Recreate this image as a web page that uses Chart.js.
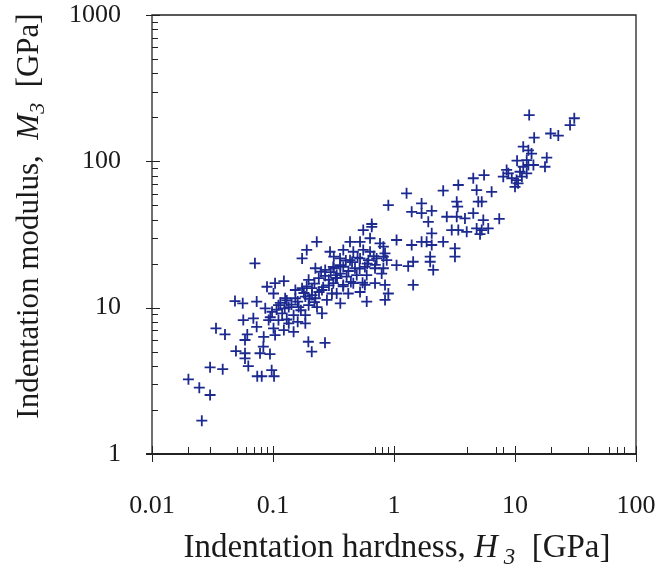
<!DOCTYPE html>
<html>
<head>
<meta charset="utf-8">
<script src="https://cdn.jsdelivr.net/npm/chart.js@4.4.1/dist/chart.umd.min.js"></script>
<style>
  html, body { margin: 0; padding: 0; background: #fff; }
  #chart { display: block; }
</style>
</head>
<body>
<canvas id="chart" width="660" height="569"></canvas>
<script>
// Indentation hardness H3 [GPa] (x) and indentation modulus M3 [GPa] (y)
const hardness = [
    0.0485, 0.0562, 0.0568, 0.0338, 0.0401, 0.0613, 0.0587, 0.0494, 0.0587, 0.0587,
    0.0625, 0.0302, 0.0384, 0.0741, 0.0807, 0.0975, 0.102, 0.0200, 0.0246, 0.0302,
    0.0258,
    0.898, 0.655, 0.230, 0.190, 0.0709, 0.843, 0.595, 0.0733, 0.0688, 0.0733,
    0.196, 0.269, 0.209, 0.0832, 0.0781, 0.0944,
    0.174, 0.318, 0.224, 0.270, 0.318, 0.360, 0.197, 0.239, 0.289, 0.338,
    0.0892, 0.104, 0.123, 0.101, 0.153, 0.174, 0.210, 0.254, 0.307,
    0.126, 0.153, 0.185, 0.224, 0.279, 0.360,
    0.111, 0.135, 0.163, 0.197, 0.231,
    0.0863, 0.0982, 0.119, 0.148, 0.185, 0.254,
    0.0921, 0.111, 0.135, 0.185, 0.101, 0.123, 0.148, 0.104, 0.0838,
    0.557, 0.655, 0.433, 0.524, 0.634, 1.05, 0.766, 0.817, 0.381, 0.461, 0.557, 0.634, 0.843, 0.296,
    0.358, 0.433, 0.524, 0.614, 0.719, 1.05, 0.315, 0.381, 0.476, 0.575, 0.697, 0.817,
    0.336, 0.406, 0.492, 0.595, 0.791, 0.315, 0.381, 0.461, 0.575, 0.697, 0.843,
    0.336, 0.419, 0.524, 0.898,
    5.55, 4.52, 3.40, 2.55, 4.82, 6.41, 1.27, 1.69, 3.30, 4.97, 5.31,
    1.40, 1.69, 2.05, 3.36, 1.92, 2.73, 3.30, 3.86, 4.52, 5.47, 7.41,
    3.00, 3.40, 3.99, 4.82, 5.14, 6.01, 2.05, 1.40, 1.69, 1.86, 2.05, 2.55,
    3.19, 3.19, 0.817, 0.871, 1.99, 1.99, 2.11, 1.31, 1.44, 1.44,
    13.1, 30.9, 28.5, 19.7, 22.8, 14.4, 11.7, 12.9, 13.7, 18.3, 17.7, 10.4, 12.5, 12.9, 11.7, 14.2,
    8.53, 8.81, 8.0, 11.0, 12.5, 11.4, 10.3, 9.4, 10.0, 10.6, 5.31,
    // inside the dense band
    0.115, 0.130, 0.142, 0.160, 0.170, 0.200, 0.210, 0.220, 0.240, 0.260,
    0.290, 0.270, 0.300, 0.330, 0.360, 0.400, 0.420, 0.450, 0.500, 0.520,
    0.600, 0.680, 0.700, 0.130, 0.160, 0.180, 0.095, 0.107, 0.125, 0.220,
    0.190, 0.250, 0.380, 0.440, 0.550
];
const modulus = [
    11.1, 10.7, 8.22, 7.23, 6.56, 6.56, 6.01, 5.05, 4.88, 4.50,
    3.99, 3.91, 3.80, 3.40, 3.40, 3.74, 3.40, 3.24, 2.84, 2.53,
    1.69,
    50.2, 37.3, 28.2, 24.8, 20.1, 11.3, 11.0, 11.0, 8.45, 7.40,
    5.85, 5.75, 5.00, 5.41, 4.88, 4.82,
    21.7, 22.3, 18.6, 18.1, 18.6, 17.1, 15.5, 15.9, 15.5, 15.9,
    13.9, 14.7, 15.2, 12.5, 13.2, 13.6, 13.6, 13.2, 12.5,
    11.6, 11.6, 11.9, 11.6, 11.3, 10.7,
    10.4, 10.1, 10.1, 10.4, 10.1,
    9.89, 9.38, 9.14, 8.89, 8.89, 9.14,
    8.22, 8.22, 7.82, 7.82, 7.23, 7.03, 6.84, 6.50, 6.32,
    33.9, 35.7, 28.2, 28.2, 29.8, 29.0, 27.5, 26.1, 24.8, 24.1, 24.8, 24.1, 23.5, 24.1,
    21.7, 21.1, 21.7, 21.1, 21.7, 19.5, 19.0, 19.0, 18.6, 19.0, 18.6, 18.6,
    16.7, 16.3, 16.7, 16.7, 17.1, 14.7, 14.3, 14.7, 14.3, 14.7, 14.3,
    12.5, 12.5, 12.8, 12.5,
    80.6, 76.6, 68.9, 63.0, 63.6, 61.9, 60.4, 51.6, 53.0, 53.0, 53.0,
    45.2, 44.2, 45.9, 49.0, 38.6, 41.8, 41.8, 40.7, 44.2, 39.7, 40.5,
    33.9, 33.9, 33.0, 34.8, 31.8, 34.8, 32.2, 26.8, 28.2, 28.2, 26.8, 28.2,
    25.4, 22.3, 22.3, 21.1, 22.3, 20.6, 18.1, 19.2, 20.6, 14.3,
    207, 197, 177, 155, 150, 145, 126, 119, 113, 106, 91.8, 101, 102, 94.4, 91.8, 94.4,
    87.3, 82.8, 78.5, 84.9, 82.8, 78.5, 74.5, 76.6, 67.0, 70.8, 33.9,
    10.8, 11.2, 10.5, 11.0, 9.6, 11.5, 12.2, 10.9, 12.8, 13.8,
    14.2, 16.5, 17.5, 16.0, 19.5, 21.0, 17.8, 20.5, 22.0, 18.5,
    20.0, 22.5, 19.6, 8.3, 8.0, 12.6, 8.6, 9.7, 9.9, 14.6,
    14.0, 17.6, 14.0, 15.0, 14.8
];

const xMajorTicks = [0.01, 0.1, 1, 10, 100];
const yMajorTicks = [1, 10, 100, 1000];
// minor ticks that show on the bottom axis of the scan
const xMinorTicks = [0.02, 0.03, 0.05, 0.06, 0.07, 0.08, 0.09, 0.7, 0.8, 0.9, 4, 7, 8, 20, 40, 60, 70, 80];
const yMinorTicks = [2, 3, 4, 5, 6, 7, 8, 9, 20, 30, 40, 50, 60, 70, 80, 90, 200, 300, 400, 500, 600, 700, 800, 900];

const serif = "'Liberation Serif', 'Times New Roman', serif";
const inkColor = '#1a1a1a';
const markColor = '#1c2a90';

// draws text pieces one after another: [text, font, yShift]
function drawPieces(ctx, pieces, startX, baseY) {
    let x = startX;
    pieces.forEach(p => {
        ctx.font = p[1];
        ctx.fillText(p[0], x, baseY + p[2]);
        x += ctx.measureText(p[0]).width;
    });
}
function piecesWidth(ctx, pieces) {
    let w = 0;
    pieces.forEach(p => {
        ctx.font = p[1];
        w += ctx.measureText(p[0]).width;
    });
    return w;
}

// keep the plot box where the scan has it, whatever the edge labels need
function noEdgePadding(scale) {
    scale.paddingLeft = 0;
    scale.paddingRight = 0;
    scale.paddingTop = 0;
    scale.paddingBottom = 0;
}

const frameAndTitles = {
    id: 'frameAndTitles',
    afterDatasetsDraw(chart) {
        const ctx = chart.ctx;
        const area = chart.chartArea;
        const xs = chart.scales.x;
        const ys = chart.scales.y;
        ctx.save();
        ctx.strokeStyle = '#222';

        // box
        ctx.lineWidth = 1.3;
        ctx.beginPath();
        ctx.moveTo(area.left, area.bottom);
        ctx.lineTo(area.left, area.top);
        ctx.lineTo(area.right, area.top);
        ctx.lineTo(area.right, area.bottom);
        ctx.stroke();
        ctx.lineWidth = 2;
        ctx.beginPath();
        ctx.moveTo(area.left - 6, area.bottom);
        ctx.lineTo(area.right, area.bottom);
        ctx.stroke();

        // ticks
        ctx.lineWidth = 1;
        ctx.beginPath();
        xMajorTicks.forEach(v => {
            const px = Math.round(xs.getPixelForValue(v)) + 0.5;
            ctx.moveTo(px, area.bottom + 8);
            ctx.lineTo(px, area.bottom - 8);
        });
        xMinorTicks.forEach(v => {
            const px = Math.round(xs.getPixelForValue(v)) + 0.5;
            ctx.moveTo(px, area.bottom);
            ctx.lineTo(px, area.bottom - 7);
        });
        yMajorTicks.forEach(v => {
            const py = Math.round(ys.getPixelForValue(v)) + 0.5;
            ctx.moveTo(area.left - 6, py);
            ctx.lineTo(area.left + 8, py);
        });
        yMinorTicks.forEach(v => {
            const py = Math.round(ys.getPixelForValue(v)) + 0.5;
            ctx.moveTo(area.left, py);
            ctx.lineTo(area.left + 6, py);
        });
        ctx.stroke();

        // axis titles
        ctx.fillStyle = inkColor;
        ctx.textBaseline = 'alphabetic';
        ctx.textAlign = 'left';

        const xTitle = [
            ['Indentation hardness, ', '33px ' + serif, 0],
            ['H', 'italic 33px ' + serif, 0],
            [' 3', 'italic 23px ' + serif, 7],
            ['  [GPa]', '33px ' + serif, 0]
        ];
        const xw = piecesWidth(ctx, xTitle);
        drawPieces(ctx, xTitle, 397 - xw / 2, 557);

        const yTitle = [
            ['Indentation modulus,  ', '31px ' + serif, 0],
            ['M', 'italic 31px ' + serif, 0],
            ['3', 'italic 22px ' + serif, 6],
            ['  [GPa]', '31px ' + serif, 0]
        ];
        const yw = piecesWidth(ctx, yTitle);
        ctx.translate(38, 216);
        ctx.rotate(-Math.PI / 2);
        drawPieces(ctx, yTitle, -yw / 2, 0);
        ctx.restore();
    }
};

const points = hardness.map((h, i) => ({ x: h, y: modulus[i] }));

new Chart(document.getElementById('chart'), {
    type: 'scatter',
    data: {
        datasets: [{
            label: 'M3 vs H3',
            data: points,
            pointStyle: 'cross',
            pointRadius: 5.5,
            borderWidth: 1.8,
            borderColor: markColor,
            backgroundColor: markColor
        }]
    },
    options: {
        responsive: false,
        animation: false,
        devicePixelRatio: 1,
        layout: { padding: { top: 15, right: 24, left: 0, bottom: 0 } },
        plugins: {
            legend: { display: false },
            tooltip: { enabled: false }
        },
        scales: {
            x: {
                type: 'logarithmic',
                min: 0.01,
                max: 100,
                afterBuildTicks: scale => { scale.ticks = xMajorTicks.map(v => ({ value: v })); },
                afterFit: scale => { scale.height = 115; noEdgePadding(scale); },
                grid: { display: false },
                border: { display: false },
                ticks: {
                    padding: 29,
                    maxRotation: 0,
                    color: inkColor,
                    font: { family: serif, size: 26 },
                    callback: v => String(v)
                }
            },
            y: {
                type: 'logarithmic',
                min: 1,
                max: 1000,
                afterBuildTicks: scale => { scale.ticks = yMajorTicks.map(v => ({ value: v })); },
                afterFit: scale => { scale.width = 152; noEdgePadding(scale); },
                grid: { display: false },
                border: { display: false },
                ticks: {
                    padding: 23,
                    color: inkColor,
                    font: { family: serif, size: 26 },
                    callback: v => String(v)
                }
            }
        }
    },
    plugins: [frameAndTitles]
});
</script>
</body>
</html>
